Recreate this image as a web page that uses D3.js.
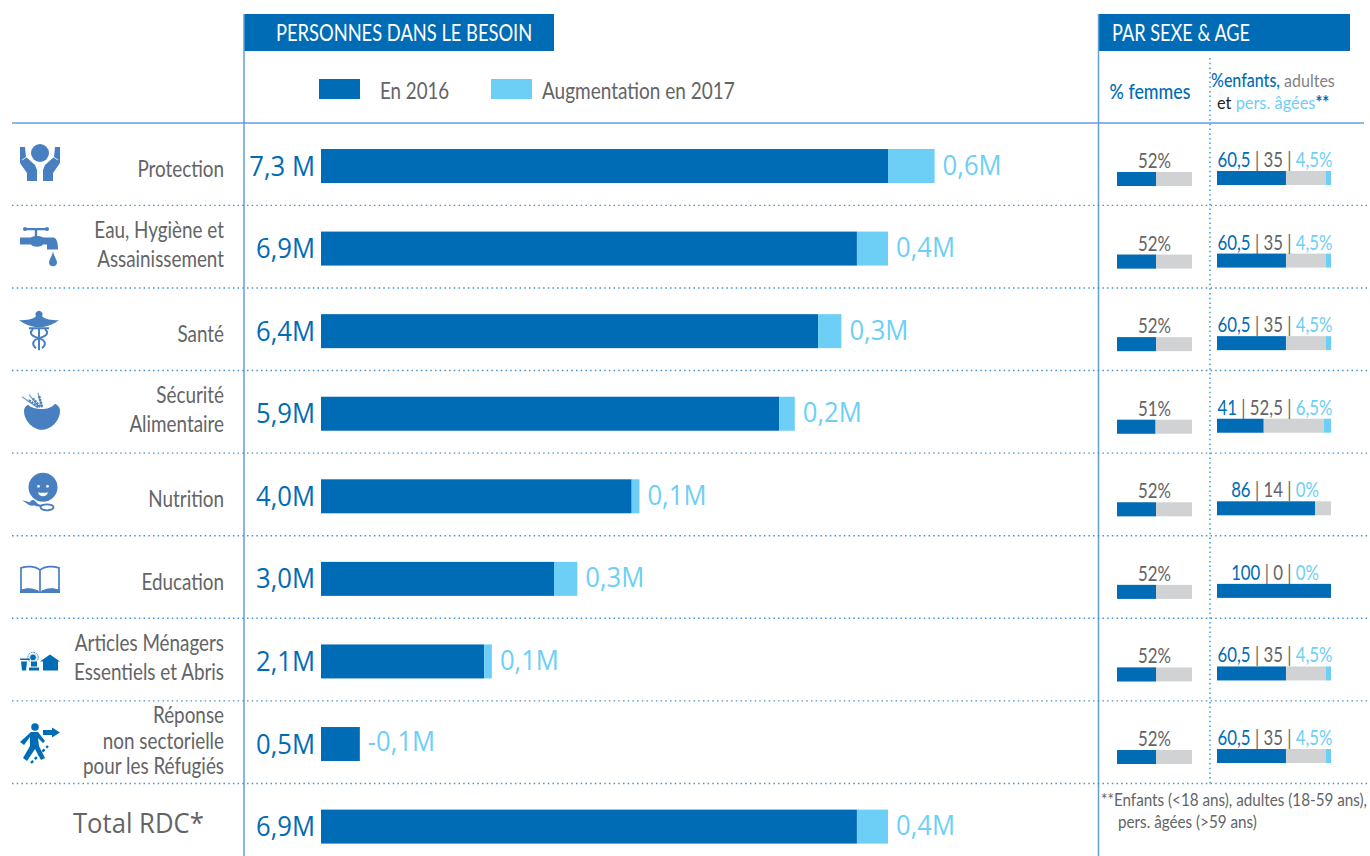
<!DOCTYPE html>
<html lang="fr">
<head>
<meta charset="utf-8">
<title>Personnes dans le besoin</title>
<script src="https://cdn.jsdelivr.net/npm/d3@7/dist/d3.min.js"></script>
<style>
html,body{margin:0;padding:0;background:#fff;overflow:hidden}
svg{display:block}
text{font-family:Lato,sans-serif}
.num{font-family:"Open Sans",sans-serif}
</style>
</head>
<body>
<svg id="chart" width="1370" height="856"></svg>
<script>
// Besoins par secteur
const categories = ["Protection", "Eau, Hygiène et|Assainissement", "Santé", "Sécurité|Alimentaire", "Nutrition", "Education", "Articles Ménagers|Essentiels et Abris", "Réponse|non sectorielle|pour les Réfugiés", "Total RDC*"];
const needs2016 = [7.3, 6.9, 6.4, 5.9, 4.0, 3.0, 2.1, 0.5, 6.9];
const change2017 = [0.6, 0.4, 0.3, 0.2, 0.1, 0.3, 0.1, -0.1, 0.4];
const needsLabels = ["7,3 M", "6,9M", "6,4M", "5,9M", "4,0M", "3,0M", "2,1M", "0,5M", "6,9M"];
const changeLabels = ["0,6M", "0,4M", "0,3M", "0,2M", "0,1M", "0,3M", "0,1M", "-0,1M", "0,4M"];

// Répartition par sexe et par âge
const womenPct = [52, 52, 52, 51, 52, 52, 52, 52];
const childrenPct = [60.5, 60.5, 60.5, 41, 86, 100, 60.5, 60.5];
const adultsPct = [35, 35, 35, 52.5, 14, 0, 35, 35];
const eldersPct = [4.5, 4.5, 4.5, 6.5, 0, 0, 4.5, 4.5];

const legendLabels = ["En 2016", "Augmentation en 2017"];
const footnoteLines = ["**Enfants (<18 ans), adultes (18-59 ans),", "pers. âgées (>59 ans)"];

const BLUE = "#006cb5", SKY = "#6dcff6", GREY = "#d0d2d3", TEXT = "#636466",
      RULE = "#629fd5", DOT = "#3f94d0", ICON = "#477fc1";

const svg = d3.select("#chart");
const x = d3.scaleLinear().domain([0, 7.3]).range([321, 888]);
const y = d3.scalePoint().domain(d3.range(categories.length)).range([166, 826.6]);
const sexX = d3.scaleLinear().domain([0, 100]).range([1117, 1192]);
const ageX = d3.scaleLinear().domain([0, 100]).range([1217, 1331]);
const BAR_H = 34, MINI_H = 14;

// Texte étroit : la police est resserrée horizontalement
function label(parent, str, px, py, opts = {}) {
  const t = parent.append("text")
    .attr("transform", `translate(${px},${py}) scale(${opts.sx ?? 0.82},1)`)
    .attr("text-anchor", opts.anchor ?? "start")
    .attr("font-size", opts.size ?? 23)
    .attr("font-weight", opts.weight ?? 400)
    .attr("fill", opts.fill ?? TEXT);
  if (opts.cls) t.attr("class", opts.cls);
  if (str !== null) t.text(str);
  return t;
}

// En-têtes
svg.append("rect").attr("x", 244).attr("y", 14).attr("width", 310).attr("height", 37).attr("fill", BLUE);
svg.append("rect").attr("x", 1098).attr("y", 14).attr("width", 252).attr("height", 37).attr("fill", BLUE);
label(svg, "PERSONNES DANS LE BESOIN", 276, 41, {fill: "#fff", size: 23, sx: 0.797});
label(svg, "PAR SEXE & AGE", 1112, 41, {fill: "#fff", size: 23, sx: 0.789});

// Filets
svg.append("line").attr("x1", 244).attr("x2", 244).attr("y1", 14).attr("y2", 856).attr("stroke", RULE).attr("stroke-width", 1.5);
svg.append("line").attr("x1", 1098.5).attr("x2", 1098.5).attr("y1", 14).attr("y2", 856).attr("stroke", RULE).attr("stroke-width", 1.5);
svg.append("line").attr("x1", 12).attr("x2", 1364).attr("y1", 123).attr("y2", 123).attr("stroke", RULE).attr("stroke-width", 1.5);
svg.append("line").attr("x1", 1210).attr("x2", 1210).attr("y1", 58).attr("y2", 785)
  .attr("stroke", DOT).attr("stroke-width", 1.5).attr("stroke-dasharray", "1.5 3.2");
svg.selectAll("line.sep").data(d3.range(categories.length - 1)).join("line")
  .attr("class", "sep")
  .attr("x1", 12).attr("x2", 1368)
  .attr("y1", i => y(i) + 39.4).attr("y2", i => y(i) + 39.4)
  .attr("stroke", DOT).attr("stroke-width", 1.4).attr("stroke-dasharray", "1.5 3.2");

// Légende
[BLUE, SKY].forEach((c, i) => {
  svg.append("rect").attr("x", i ? 491 : 319).attr("y", 79).attr("width", 41).attr("height", 20).attr("fill", c);
  label(svg, legendLabels[i], i ? 542 : 380, 99, {size: 24, sx: i ? 0.792 : 0.78});
});

// Titres de colonnes
label(svg, "% femmes", 1150, 99, {anchor: "middle", fill: BLUE, weight: 500, size: 22, sx: 0.81});
label(svg, null, 1211, 86.5, {size: 18.2, sx: 0.88}).call(t => {
  t.append("tspan").attr("fill", BLUE).attr("font-weight", 500).text("%enfants, ");
  t.append("tspan").attr("fill", "#808285").text("adultes");
});
label(svg, null, 1217, 108.5, {size: 18.2, sx: 0.9}).call(t => {
  t.append("tspan").attr("fill", "#231f20").text("et ");
  t.append("tspan").attr("fill", SKY).text("pers. âgées");
  t.append("tspan").attr("fill", BLUE).attr("font-weight", 700).text("**");
});

// Barres principales
const rows = svg.selectAll("g.row").data(categories.map((c, i) => i)).join("g").attr("class", "row");
rows.append("rect")
  .attr("x", x(0)).attr("y", i => y(i) - BAR_H / 2)
  .attr("width", i => x(needs2016[i]) - x(0)).attr("height", BAR_H).attr("fill", BLUE);
rows.append("rect")
  .attr("x", i => x(needs2016[i])).attr("y", i => y(i) - BAR_H / 2)
  .attr("width", i => x(Math.max(0, change2017[i])) - x(0)).attr("height", BAR_H).attr("fill", SKY);
rows.each(function(i) {
  const g = d3.select(this), cy = y(i);
  label(g, needsLabels[i], 315, cy + 9.5, {anchor: "end", cls: "num", fill: BLUE, size: 27, sx: 0.95});
  const end = x(needs2016[i] + Math.max(0, change2017[i]));
  label(g, changeLabels[i], end + 8, cy + 8.5 - (change2017[i] < 0 ? 2 : 0), {cls: "num", fill: SKY, size: 27, sx: 0.95});
});

// Libellés de secteurs, une à trois lignes
const lineLayout = {1: [11], 2: [-10.5, 18.5], 3: [-21, 5, 30]};
categories.forEach((c, i) => {
  if (i === categories.length - 1) {
    label(svg, c, 73, 833, {cls: "num", size: 27, sx: 0.95});
    return;
  }
  const parts = c.split("|");
  parts.forEach((p, k) => label(svg, p, 224, y(i) + lineLayout[parts.length][k], {anchor: "end"}));
});

// Sexe et âge
womenPct.forEach((w, i) => {
  const top = y(i) + 6;
  label(svg, w + "%", 1154.5, top - 4, {anchor: "middle", size: 21, sx: 0.8});
  svg.append("rect").attr("x", sexX(0)).attr("y", top).attr("width", sexX(100) - sexX(0)).attr("height", MINI_H).attr("fill", GREY);
  svg.append("rect").attr("x", sexX(0)).attr("y", top).attr("width", sexX(w) - sexX(0)).attr("height", MINI_H).attr("fill", BLUE);

  const at = top - 1;
  const comma = v => String(v).replace(".", ",");
  const a = childrenPct[i], b = adultsPct[i], c = eldersPct[i];
  [[0, a, BLUE], [a, a + b, GREY], [a + b, a + b + c, SKY]].forEach(([s, e, col]) => {
    if (e > s) svg.append("rect").attr("x", ageX(s)).attr("y", at).attr("width", ageX(e) - ageX(s)).attr("height", MINI_H).attr("fill", col);
  });
  label(svg, null, 1275, at - 4, {anchor: "middle", size: 21, sx: 0.8}).call(t => {
    t.append("tspan").attr("fill", BLUE).text(comma(a));
    t.append("tspan").attr("fill", TEXT).text(` | ${comma(b)} | `);
    t.append("tspan").attr("fill", SKY).text(comma(c) + "%");
  });
});

// Note de bas de tableau
label(svg, footnoteLines[0], 1101, 806, {size: 17.5, sx: 0.87});
label(svg, footnoteLines[1], 1118, 828, {size: 17.5, sx: 0.87});

// Pictogrammes de secteurs
const icons = [
  g => { // mains protectrices
    g.append("circle").attr("cx", 0).attr("cy", -12).attr("r", 9).attr("fill", ICON);
    [1, -1].forEach(s => {
      const h = g.append("g").attr("transform", `scale(${s},1)`);
      h.append("path").attr("fill", ICON).attr("d", "M-20,-18L-15,-18L-14,-8L-5,0L-3,5L-3,16L-13,16L-13,8L-20,-2Z");
      h.append("path").attr("fill", "none").attr("stroke", "#fff").attr("stroke-width", 0.9).attr("d", "M-18,-5L-12,-9L-8,-4");
    });
  },
  g => { // robinet
    g.append("path").attr("stroke", ICON).attr("stroke-width", 2.4).attr("fill", "none").attr("d", "M-15,-19.5H7M-4,-19.5V-10");
    g.selectAll("circle.k").data([-15, 7]).join("circle").attr("cx", d => d).attr("cy", -19.5).attr("r", 2).attr("fill", ICON);
    g.append("path").attr("fill", ICON).attr("d", "M-20,-11H-9C-7,-13 1,-13 3,-11H13C17,-11 18,-5 18,1H7V-4H3C1,-1 -7,-1 -9,-4H-20Z");
    g.append("path").attr("fill", ICON).attr("d", "M13,3C14,8 17,11 17,14C17,19 9,19 9,14C9,11 12,8 13,3Z");
  },
  g => { // caducée
    g.append("path").attr("fill", ICON).attr("d", "M-20,-11C-12,-11 -6,-12 -3,-15A3.5,3.5 0 1 1 3,-15C6,-12 12,-11 20,-11C14,-7 9,-5 3,-4H-3C-9,-5 -14,-7 -20,-11Z");
    g.append("path").attr("fill", "none").attr("stroke", ICON).attr("stroke-width", 2)
      .attr("d", "M0,-4V19M-10,-3H10M-6,-2C-12,3 -4,6 0,7C6,9 8,13 3,17M6,-2C12,3 4,6 0,7C-6,9 -8,13 -3,17");
  },
  g => { // bol et épis
    g.append("g").attr("stroke", ICON).attr("fill", "none").attr("opacity", 0.75).attr("stroke-width", 1.2)
      .selectAll("path").data(["M-4,-2L-20,-13", "M0,-2L-4,-17", "M-2,-2L-13,-15"]).join("path").attr("d", d => d);
    g.append("path").attr("fill", "none").attr("stroke", ICON).attr("stroke-width", 2.6).attr("stroke-dasharray", "2 1")
      .attr("d", "M-4,-3L-14,-10M0,-3L-3,-14M-2,-3L-9,-11");
    g.append("path").attr("fill", ICON).attr("d", "M-18,1C-18,-2 -16,-4 -14,-5C-8,1 8,1 13,-6C17,-4 18,-1 18,1C18,12 8,20 0,20C-8,20 -18,12 -18,1Z");
  },
  g => { // visage et cuillère
    g.append("circle").attr("cx", 3).attr("cy", -9).attr("r", 14.5).attr("fill", ICON);
    g.selectAll("circle.e").data([-1.5, 7.5]).join("circle").attr("cx", d => d).attr("cy", -10).attr("r", 1.4).attr("fill", "#fff");
    g.append("path").attr("fill", "#fff").attr("d", "M-2,-4Q3,-3 8,-4Q7,0 3,0Q-1,0 -2,-4Z");
    g.append("path").attr("fill", ICON).attr("d", "M-18,4L-10,6C-9,3 -5,3 -4,6C-2,8 0,9 3,8L3,10C0,11 -4,10 -6,9C-8,10 -11,9 -12,8Z");
    g.append("ellipse").attr("cx", 7).attr("cy", 11).attr("rx", 6.5).attr("ry", 3).attr("fill", "#fff").attr("stroke", ICON).attr("stroke-width", 1.8);
  },
  g => { // livre ouvert
    g.append("path").attr("fill", "none").attr("stroke", ICON).attr("stroke-width", 1.7)
      .attr("d", "M0,-9C-5,-13 -13,-13 -19,-11V12H-2M0,-9C5,-13 13,-13 19,-11V12H2M0,-9V13");
    g.append("path").attr("fill", ICON).attr("d", "M-20,11C-12,8 -5,9 0,13C5,9 12,8 20,11V14H-20Z");
  },
  g => { // articles ménagers et abri
    g.append("path").attr("fill", BLUE).attr("d", "M-20,-5H-9V-3.5H-20ZM-19,-2H-13L-14,7H-18ZM-11,4H-1V7H-11ZM-9,-2H-3V3H-9Z");
    g.append("circle").attr("cx", -7).attr("cy", -6).attr("r", 3.4).attr("fill", BLUE).attr("stroke", "#fff").attr("stroke-width", 0.8);
    g.append("circle").attr("cx", -7).attr("cy", -6).attr("r", 5.2).attr("fill", "none").attr("stroke", BLUE).attr("stroke-width", 1).attr("stroke-dasharray", "1 0.8");
    g.append("path").attr("fill", BLUE).attr("d", "M0,-2L10,-9L20,-2H18V7H3V-2Z");
  },
  g => { // personne en marche
    g.append("circle").attr("cx", -5).attr("cy", -16).attr("r", 3.8).attr("fill", BLUE);
    g.append("path").attr("fill", BLUE).attr("d", "M-9,-11H-2L5,-2L3,0L-2,-5L-1,3L5,15L1,17L-5,6L-13,18L-17,15L-10,3V-6L-16,2L-20,-1Z");
    g.append("path").attr("fill", BLUE).attr("d", "M3,-13H12V-15.5L20,-10.5L12,-5.5V-8H3Z");
    g.append("path").attr("fill", "none").attr("stroke", BLUE).attr("stroke-width", 2.4).attr("stroke-dasharray", "3 2.4").attr("d", "M-9,20L8,3");
  }
];
const iconOffsets = [[40, -1], [40, 0], [39, 0], [42, -4], [40, 0], [40, 0], [40, 2], [40, -1]];
icons.forEach((draw, i) => {
  draw(svg.append("g").attr("transform", `translate(${iconOffsets[i][0]},${y(i) + iconOffsets[i][1]})`));
});
</script>
</body>
</html>
